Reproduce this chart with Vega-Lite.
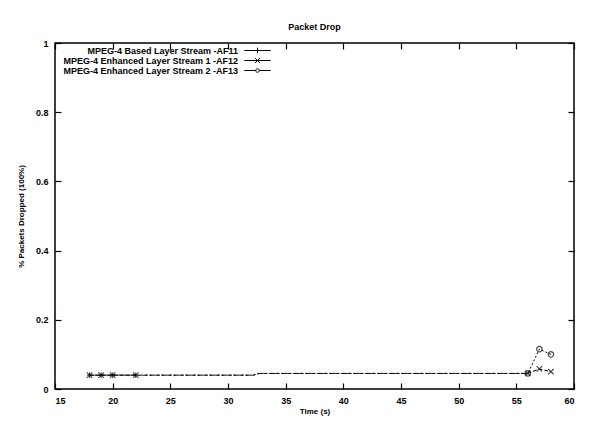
{
  "$schema": "https://vega.github.io/schema/vega-lite/v6.json",
  "width": 519,
  "height": 346,
  "autosize": {"type": "none"},
  "padding": {"left": 55, "top": 43, "right": 16, "bottom": 33},
  "background": "white",
  "title": {"text": "Packet Drop", "fontSize": 9, "font": "Liberation Sans", "fontWeight": "bold", "offset": 7, "color": "black"},
  "config": {
    "view": {"stroke": "black", "strokeWidth": 1.5},
    "axis": {"grid": false, "domain": false, "labelFont": "Liberation Sans", "labelFontWeight": "bold", "labelFontSize": 9, "labelColor": "black", "titleFont": "Liberation Sans", "titleFontWeight": "bold", "titleFontSize": 8, "titleColor": "black", "tickColor": "black", "tickWidth": 1.2},
    "legend": {"labelFont": "Liberation Sans Narrow, Liberation Sans", "labelFontWeight": "bold", "labelFontSize": 9, "labelColor": "black"}
  },
  "data": {"values": [
    {"series": "MPEG-4 Based Layer Stream -AF11", "x": 18, "y": 0.04},
    {"series": "MPEG-4 Based Layer Stream -AF11", "x": 19, "y": 0.04},
    {"series": "MPEG-4 Based Layer Stream -AF11", "x": 20, "y": 0.04},
    {"series": "MPEG-4 Based Layer Stream -AF11", "x": 22, "y": 0.04},
    {"series": "MPEG-4 Enhanced Layer Stream 1 -AF12", "x": 18, "y": 0.04},
    {"series": "MPEG-4 Enhanced Layer Stream 1 -AF12", "x": 19, "y": 0.04},
    {"series": "MPEG-4 Enhanced Layer Stream 1 -AF12", "x": 20, "y": 0.04},
    {"series": "MPEG-4 Enhanced Layer Stream 1 -AF12", "x": 22, "y": 0.04},
    {"series": "MPEG-4 Enhanced Layer Stream 1 -AF12", "x": 32.2, "y": 0.04},
    {"series": "MPEG-4 Enhanced Layer Stream 1 -AF12", "x": 32.7, "y": 0.045},
    {"series": "MPEG-4 Enhanced Layer Stream 1 -AF12", "x": 56, "y": 0.045},
    {"series": "MPEG-4 Enhanced Layer Stream 1 -AF12", "x": 57, "y": 0.058},
    {"series": "MPEG-4 Enhanced Layer Stream 1 -AF12", "x": 58, "y": 0.05},
    {"series": "MPEG-4 Enhanced Layer Stream 2 -AF13", "x": 22.5, "y": 0.04},
    {"series": "MPEG-4 Enhanced Layer Stream 2 -AF13", "x": 32.2, "y": 0.04},
    {"series": "MPEG-4 Enhanced Layer Stream 2 -AF13", "x": 32.7, "y": 0.045},
    {"series": "MPEG-4 Enhanced Layer Stream 2 -AF13", "x": 56, "y": 0.045},
    {"series": "MPEG-4 Enhanced Layer Stream 2 -AF13", "x": 57, "y": 0.115},
    {"series": "MPEG-4 Enhanced Layer Stream 2 -AF13", "x": 58, "y": 0.1}
  ]},
  "layer": [
    {
      "mark": {"type": "line", "color": "black", "strokeWidth": 1, "clip": true},
      "encoding": {
        "x": {"field": "x", "type": "quantitative", "scale": {"domain": [15, 60], "nice": false, "zero": false},
              "axis": {"values": [15,20,25,30,35,40,45,50,55,60], "tickSize": -6, "labelPadding": 13, "title": "Time (s)", "titlePadding": 2}},
        "y": {"field": "y", "type": "quantitative", "scale": {"domain": [0, 1], "nice": false},
              "axis": {"values": [0,0.2,0.4,0.6,0.8,1], "format": "~g", "tickSize": -6, "labelPadding": 13, "title": "% Packets Dropped (100%)", "titlePadding": 10}},
        "strokeDash": {"field": "series", "type": "nominal", "scale": {"range": [[1,0],[4,2],[2,2]]}, "legend": null},
        "detail": {"field": "series"}
      }
    },
    {
      "transform": [{"filter": "datum.x <= 22 || datum.x >= 56"}],
      "mark": {"type": "point", "color": "black", "strokeWidth": 1.2, "size": 30, "filled": false},
      "encoding": {
        "x": {"field": "x", "type": "quantitative", "axis": {"orient": "top", "values": [15,20,25,30,35,40,45,50,55,60], "tickSize": -6, "labels": false, "title": null}},
        "y": {"field": "y", "type": "quantitative", "axis": {"orient": "right", "values": [0,0.2,0.4,0.6,0.8,1], "tickSize": -6, "labels": false, "title": null}},
        "shape": {"field": "series", "type": "nominal", "scale": {"range": ["M-1,0H1M0,-1V1", "M-1,-1L1,1M-1,1L1,-1", "circle"]}, "legend": null}
      }
    },
    {
      "mark": {"type": "point", "color": "black", "opacity": 0, "strokeWidth": 1, "filled": false},
      "encoding": {
        "x": {"field": "x", "type": "quantitative", "axis": null},
        "y": {"field": "y", "type": "quantitative", "axis": null},
        "shape": {"field": "series", "type": "nominal",
                  "scale": {"range": ["M-3.3,0H3.3M0,-0.7V0.7", "M-3.3,0H3.3M-0.6,-0.6L0.6,0.6M-0.6,0.6L0.6,-0.6", "M-3.3,0H-0.45M0.45,0H3.3M0.45,0A0.45,0.45,0,1,1,-0.45,0A0.45,0.45,0,1,1,0.45,0"]},
                  "legend": {"title": null, "orient": "none", "legendX": 198, "legendY": 3, "symbolSize": 64, "symbolOpacity": 1, "symbolStrokeColor": "black", "symbolStrokeWidth": 1, "labelAlign": "right", "labelOffset": -24, "labelLimit": 300, "labelFontSize": 9, "rowPadding": 0}}
      }
    }
  ],
  "resolve": {"scale": {"shape": "independent"}, "axis": {"x": "independent", "y": "independent"}}
}
